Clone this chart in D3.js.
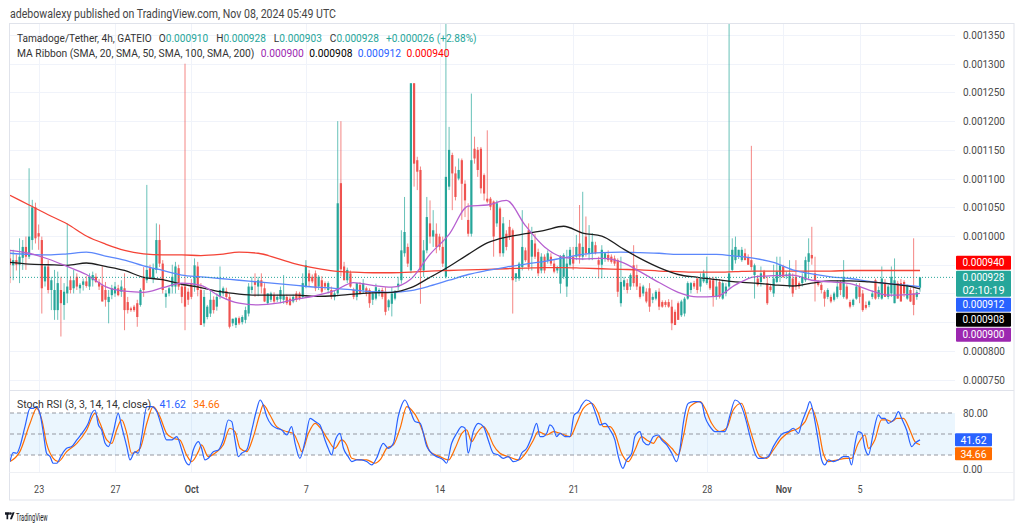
<!DOCTYPE html>
<html>
<head>
<meta charset="utf-8">
<script src="https://cdn.jsdelivr.net/npm/d3@7/dist/d3.min.js"></script>
<style>
  html, body { margin:0; padding:0; background:#ffffff; overflow:hidden; }
  svg { display:block; }
  text { font-family: Roboto, "Liberation Sans", Arial, sans-serif; }
</style>
</head>
<body>
<svg id="chart" width="1024" height="532"></svg>
<script>
// ================= DATA =================
// Prices are in millionths of USDT (928 = 0.000928). 4h candles: [open, high, low, close]
const firstCandleUTC = Date.UTC(2024, 8, 21, 12, 0);
const candleHours = 4;
const candles = [
[961,976,918,950],[949,976,923,958],[958,968,940,950],[950,996,918,964],[962,993,941,981],[981,999,941,964],[964,1118,960,999],[993,1063,976,1050],[1050,1058,987,996],[1005,1020,976,999],
[993,999,865,909],[921,950,912,947],[947,958,900,906],[906,929,871,923],[871,941,854,906],[871,938,854,918],[906,929,825,883],[880,918,854,903],[900,1022,883,912],[923,930,900,906],
[909,941,900,923],[929,935,906,912],[909,918,900,915],[915,926,905,921],[921,930,910,913],[912,935,906,929],[923,938,912,932],[929,935,918,920],[920,925,906,912],[914,947,886,886],
[906,920,877,889],[885,906,848,894],[897,915,890,909],[900,920,894,912],[909,915,895,897],[903,923,894,912],[909,935,836,871],[885,894,865,871],[874,877,868,871],[877,880,868,871],
[883,889,842,859],[880,909,877,906],[929,946,894,906],[923,1089,918,941],[944,950,925,926],[926,952,918,944],[941,1022,935,993],[993,1020,946,952],[952,958,900,906],[894,906,875,900],
[900,912,895,909],[912,950,900,929],[912,955,900,947],[944,950,906,912],[912,918,883,894],[912,1300,836,877],[903,909,880,889],
[918,925,890,894],[912,961,903,949],[947,955,895,906],[906,918,845,845],[848,906,842,894],[859,880,855,877],[865,906,859,889],[889,895,865,871],[877,900,870,894],[894,947,890,906],
[900,912,895,909],[904,910,890,894],[894,900,839,842],[848,856,843,856],[845,859,840,857],[857,860,845,848],[850,862,846,859],[854,877,848,871],[865,918,860,912],[906,929,900,912],
[921,935,894,915],[912,929,895,923],[923,935,900,912],[909,918,885,886],[883,900,880,900],[889,903,885,900],[897,902,883,886],[889,898,885,894],[890,912,883,906],[889,932,882,897],
[894,898,880,883],[891,895,878,880],[886,898,883,894],[900,904,885,889],[900,903,888,891],[894,935,891,918],[912,958,909,949],[935,941,912,921],[929,933,918,921],[935,940,904,909],
[912,932,906,929],[923,930,900,903],[918,921,906,912],[906,921,900,918],[906,912,890,894],[894,906,888,900],
[900,1200,895,1057],[1092,1200,930,942],
[947,955,923,923],[923,945,918,941],[935,940,910,912],[906,910,890,894],[894,918,888,918],[915,920,898,900],[906,925,900,918],[909,912,895,900],[906,909,875,883],[889,903,880,900],
[891,917,888,911],[900,909,895,906],[906,910,890,894],[903,911,862,868],[876,890,870,888],[882,911,860,900],[891,906,888,903],[911,929,906,917],[923,1010,917,975],[970,1068,964,1007],
[981,987,946,952],[940,1266,935,1266],[1266,1266,1086,1126],[1132,1138,1080,1112],[1115,1121,882,940],[940,993,929,975],[975,1068,970,1033],[1022,1062,987,999],[999,1045,981,1010],[1004,1022,970,981],
[999,1004,975,981],[981,999,946,952],[929,1372,926,1103],[1086,1190,1080,1150],[1141,1145,1045,1109],[1109,1121,1062,1068],[1100,1135,1097,1115],[1132,1135,1028,1091],[1091,1097,1033,1062],[1028,1057,999,1004],
[1004,1248,999,1132],[1152,1173,1126,1135],[1150,1155,1103,1115],[1152,1155,1074,1083],[1106,1109,1062,1074],[1065,1184,1057,1060],[1065,1068,1045,1051],[1060,1062,964,999],[1022,1062,1016,1057],[1048,1051,964,970],
[970,1033,964,1022],[1004,1010,975,981],[1016,1028,993,999],[1010,1013,865,923],[926,935,920,935],[926,955,922,952],[946,1045,940,981],[975,980,955,958],[1010,1022,940,946],[964,1016,940,993],
[987,1004,960,964],[972,978,930,935],[940,970,935,964],[964,968,935,940],[958,975,952,970],[964,970,948,952],[952,958,935,938],[940,948,935,946],[917,967,900,964],[929,970,925,967],
[912,976,894,952],[950,981,947,976],[964,981,941,952],[964,1002,958,981],[987,1054,952,964],[964,1077,958,981],[999,1034,964,970],[970,1019,958,979],[970,1005,958,990],[984,990,968,970],
[958,964,926,950],[950,984,926,976],[961,972,955,970],[967,975,955,958],[964,968,952,955],[961,966,948,952],[958,961,894,903],[883,964,877,920],[912,929,906,923],[918,925,900,906],
[912,935,906,932],[949,984,912,918],[932,950,906,912],[912,918,891,894],[900,915,895,912],[903,909,883,886],[909,918,868,877],[889,900,883,894],[891,906,888,903],[903,909,871,877],
[885,888,875,877],[885,888,876,880],[885,890,875,877],[877,889,836,848],[868,872,845,845],[883,886,854,854],[862,889,859,886],[865,894,860,891],[891,921,889,918],[906,920,900,918],
[918,922,908,912],[926,930,900,906],[912,935,903,926],[921,941,918,935],[918,964,915,929],[923,928,906,909],[923,929,877,894],[894,929,889,912],[920,925,891,894],[891,923,889,918],
[900,918,895,912],[912,1372,908,935],[941,996,938,976],[958,999,952,981],[964,976,960,976],[958,981,955,976],[970,978,958,958],[962,968,950,950],
[958,1157,940,946],[932,952,891,949],[926,932,912,915],[920,947,912,935],[938,941,925,926],[918,929,880,883],[912,915,903,906],[900,950,894,926],[920,964,918,938],[929,964,920,949],
[947,950,927,929],[930,938,925,933],[912,958,909,935],[926,935,894,900],[929,958,906,912],[918,921,908,912],[918,935,912,929],[923,964,920,958],[955,996,923,970],[967,1016,950,961],
[935,964,886,923],[921,923,912,915],[915,918,900,906],[903,906,877,891],[894,909,890,906],[894,898,883,886],[889,903,886,900],[894,923,891,912],[918,923,897,906],[894,958,891,929],
[912,916,889,891],[885,889,874,877],[880,891,877,889],[891,918,889,912],[912,918,883,894],[900,906,868,871],[880,886,872,875],[880,888,876,886],[894,905,890,900],[923,926,889,891],
[894,912,890,906],[891,947,889,926],[918,925,894,894],[894,915,890,912],[900,947,894,929],[883,961,883,923],[918,922,891,891],[918,925,886,886],[920,923,894,900],[891,915,889,915],
[906,910,885,886],[900,996,862,880],[894,906,889,902],[910,928,903,928]
];

// MA Ribbon values read once per day (every 6 candles); final value is at the last candle
const maEvery = 6;
const sma20 = [975,970,960,947,933,912,904,902,910,918,914,895,883,880,883,890,896,905,919,914,911,925,968,1003,1052,1054,1062,1018,981,963,960,961,955,938,919,902,894,895,915,929,931,932,923,920,917,906,897,898,900];
const sma50 = [954,951,950,949,953,947,940,928,924,916,910,903,899,897,897,897,895,896,899,901,902,910,928,947,968,988,998,1004,1010,1017,1005,1000,980,961,945,933,928,924,920,918,915,913,918,922,922,920,917,913,908];
const sma100 = [970,968,967,969,972,965,958,948,940,932,929,926,923,920,917,914,911,909,906,903,902,905,913,923,933,940,946,951,956,962,968,971,972,971,970,968,968,968,965,961,954,941,934,929,926,921,917,914,912];
const sma200 = [1071,1054,1037,1021,1000,986,975,969,967,967,966,968,972,970,961,951,944,939,937,936,936,937,939,940,941,942,943,944,945,945,944,943,942,941,939,938,937,937,938,939,939,939,939,939,940,940,940,940,940];

// Stoch RSI (3,3,14,14): [candle index, value]
const stochK = [
[0,10.6],[1,23.4],[2.1,22.5],[3.1,32],[4.7,60.5],[6.3,86.7],[7.3,86.7],[8.2,89.1],[9.4,79.6],[10.5,51],[11.5,22.5],[12.6,17.7],[13.6,8.2],[14.7,8.2],[16.2,20.1],[17.8,29.6],[19.4,32],[21,41.5],[23,53.4],[24.6,65.3],[25.7,79.6],[26.7,84.3],[27.8,62.9],[28.8,55.8],[29.9,36.7],[30.9,32],[32.5,53.4],[34,79.6],[35.1,60.5],[36.7,32],[37.7,12.9],[39.3,24.8],[40.3,22.5],[41.4,46.3],[43,89.1],[44.5,89.1],[46.1,82],[47.7,60.5],[49.2,41.5],[50.8,41.5],[52.4,46.3],[54,27.2],[55,12.9],[56.3,5.8],[57.6,27.2],[59.2,39.1],[60.2,29.6],[61.3,12.9],[62.3,15.3],[63.9,24.8],[65.5,27.2],[67,41.5],[68.6,70],[69.7,67.7],[70.7,41.5],[71.8,17.7],[72.8,22.5],[74.4,27.2],[76,55.8],[77.5,84.3],[78.6,98.6],[79.6,91.5],[80.7,74.8],[82.2,62.9],[83.8,58.2],[85.4,55.8],[87,48.6],[88.5,60.5],[89.6,36.7],[91.1,15.3],[92.7,39.1],[94.3,72.4],[95.9,67.7],[97.4,62.9],[99,41.5],[100,29.6],[101.1,20.1],[102.1,39.1],[103.7,51],[104.8,29.6],[106.3,17.7],[107.4,10.6],[109,12.9],[110.5,12.9],[112.1,10.6],[113.7,5.8],[115.2,15.3],[117.3,36.7],[118.9,29.6],[120.5,36.7],[122,74.8],[123.1,91.5],[124.1,98.6],[125.7,84.3],[127.3,67.7],[128.9,65.3],[131,32],[132.5,22.5],[134.1,17.7],[136.2,12.9],[137.2,8.2],[138.8,36.7],[140.4,51],[142,60.5],[143,58.2],[144,22.5],[145.6,53.4],[147.2,65.3],[148.8,60.5],[150.3,41.5],[151.9,22.5],[153.5,20.1],[155,15.3],[156.6,17.7],[158.2,10.6],[159.8,12.9],
[160.8,22.5],[162.4,29.6],[164,46.3],[165.5,65.3],[166.6,46.3],[167.6,46.3],[168.7,51],[169.7,62.9],[170.8,58.2],[171.8,46.3],[172.9,51],[174.4,46.3],[176,46.3],[177.3,77.2],[178.6,82],[179.7,91.5],[181.2,98.6],[182.8,93.9],[184.4,74.8],[185.4,62.9],[187,65.3],[188.6,55.8],[190.1,41.5],[191.2,17.7],[192.6,1],[193.8,12.9],[195.4,22.5],[196.4,46.3],[198,53.4],[199,39.1],[200.6,34.4],[202.2,46.3],[203.8,48.6],[204.8,41.5],[206.4,34.4],[208,22.5],[209.5,10.6],[210.6,29.6],[211.6,65.3],[213.2,93.9],[214.8,96.2],[216.3,96.2],[217.4,93.9],[218.4,74.8],[220,60.5],[221.6,53.4],[223.1,53.4],[224.7,53.4],[226.3,77.2],[227.9,98.6],[229.4,93.9],[231,74.8],[232.6,46.3],[234.1,22.5],[235.2,15.3],[236.8,15.3],[238.3,17.7],[239.9,32],[241.5,43.9],[243,51],[244.6,53.4],[246.2,58.2],[247.8,51],[248.8,65.3],[250.4,84.3],[251.4,96.2],[252.5,79.6],[254,41.5],[255.1,12.9],[256.1,5.8],[257.2,12.9],[258.8,10.6],[260.3,12.9],[261.9,17.7],[263.5,17.7],[264.5,5.8],[265.6,36.7],[266.6,53.4],[267.7,51],[268.7,29.6],[269.8,20.1],[271.3,51],[272.9,77.2],[273.9,72.4],[275,72.4],[276,65.3],[277.1,67.7],[278.1,72.4],[279.2,82],[280.2,72.4],[281.8,55.8],[283.4,32],[284.4,36.7],[286,41.62]
];
const stochD = [
[0,10.6],[3.1,24.8],[6.3,65.3],[8.4,86.7],[10,70.1],[11.5,36.7],[13.6,15.3],[15.2,10.6],[17.8,24.8],[21,36.7],[24.1,55.8],[26.7,79.6],[28.3,65.3],[30.4,41.5],[32,36.7],[33.5,55.8],[35.1,70.1],[36.7,51],[38.2,22.5],[40.9,29.6],[43,65.3],[45,89.1],[47.1,74.8],[49.2,51],[51.3,43.9],[53.4,41.5],[55.5,20.1],[57.1,10.6],[59.2,24.8],[60.2,34.4],[62.3,17.7],[64.4,22.5],[67,34.4],[69.1,58.2],[70.7,53.4],[72.3,29.6],[74.4,24.8],[76.5,46.3],[78.6,79.6],[79.6,91.5],[81.7,77.2],[83.8,60.5],[87,53.4],[89,51],[90.6,36.7],[91.7,24.8],[93.8,51],[95.9,65.3],[98,55.8],[100,41.5],[102.1,29.6],[104.2,41.5],[105.8,34.4],[107.4,15.3],[110,12.9],[112.1,12.9],[114.7,8.2],[116.3,12.9],[118.4,29.6],[120.5,34.4],[122.6,58.2],[124.7,89.1],[126.2,84.3],[128.3,70.1],[129.9,51],[132,24.8],[135.1,17.7],[137.8,12.9],[139.9,29.6],[142,51],[143.5,55.8],[145.1,39.1],[146.7,51],[148.8,60.5],[150.3,51],[151.9,34.4],[154,22.5],[156.6,17.7],[159.8,12.9],
[162.4,24.8],[164.5,41.5],[166,53.4],[168.7,48.6],[170.8,53.4],[172.9,51],[176,46.3],[178.1,65.3],[180.2,86.7],[182.8,93.9],[184.9,79.6],[186.5,60.5],[188.6,60.5],[190.1,51],[192.2,22.5],[194.3,10.6],[196.4,27.2],[198.5,46.3],[200.1,41.5],[202.2,36.7],[203.8,46.3],[205.3,41.5],[208,29.6],[210,20.1],[211.6,46.3],[213.7,89.1],[216.9,96.2],[218.4,86.7],[220.5,65.3],[223.1,53.4],[225.2,58.2],[227.3,84.3],[229.9,93.9],[232,65.3],[233.6,41.5],[235.7,17.7],[237.8,15.3],[239.9,27.2],[242.5,43.9],[245.1,53.4],[247.8,58.2],[249.9,67.7],[251.9,86.7],[254,60.5],[255.6,22.5],[257.2,10.6],[259.8,12.9],[262.9,15.3],[264.5,15.3],[266.6,36.7],[268.7,48.6],[269.8,29.6],[271.8,41.5],[273.9,70.1],[275.5,70.1],[277.1,67.7],[278.7,72.4],[280.8,72.4],[282.8,55.8],[284.4,39.1],[286,34.66]
];

const priceTicks = [750,800,850,900,950,1000,1050,1100,1150,1200,1250,1300,1350];
const stochTicks = [0, 80];
const stochLevels = [20, 50, 80];
const dateTicks = ["2024-09-23","2024-09-27","2024-10-01","2024-10-07","2024-10-14","2024-10-21","2024-10-28","2024-11-01","2024-11-05"];
const dateLabels = ["23","27","Oct","7","14","21","28","Nov","5"];
const countdown = "02:10:19";

// ================= DRAW =================
const svg = d3.select('#chart');
const C = { up:'#26a69a', down:'#ef5350', grid:'#f0f3fa', border:'#e0e3eb', text:'#131722', axis:'#4a4a4a',
  ma20:'#b65fd0', ma50:'#1e1e1e', ma100:'#5b87fb', ma200:'#f44336',
  lab20:'#9c27b0', lab50:'#000000', lab100:'#2962ff', lab200:'#ff0000', k:'#2962ff', d:'#ff6d00' };
const tOf = i => new Date(firstCandleUTC + i * candleHours * 3600e3);
const L = 10, R = 955, mainTop = 24, mainBot = 390, stTop = 391, stBot = 472;
const x = d3.scaleTime().domain([tOf(0), tOf(candles.length - 1)]).range([10, 920]);
const y = d3.scaleLinear().domain([750, 1350]).range([379.6, 35]);
const ys = d3.scaleLinear().domain([0, 100]).range([469, 399]);
const fmt = v => (v / 1e6).toFixed(6);

function txt(g, s, xx, yy, o = {}) {
  const t = g.append('text').attr('x', xx).attr('y', yy).text(s)
    .attr('font-size', o.size || 11).attr('fill', o.fill || C.text)
    .attr('font-weight', o.weight || 400).attr('text-anchor', o.anchor || 'start');
  if (o.width) t.attr('textLength', o.width).attr('lengthAdjust', 'spacingAndGlyphs');
  return t;
}
function condense(sel, f) {
  sel.each(function () {
    const w = this.getComputedTextLength();
    this.setAttribute('textLength', (w * f).toFixed(1));
    this.setAttribute('lengthAdjust', 'spacingAndGlyphs');
  });
}
// one text element per legend row (coloured tspans), horizontally scaled to the row's width
function legendRow(parent, parts, x0, y0, width) {
  const g = parent.append('g');
  const t = g.append('text').attr('x', 0).attr('y', 0).attr('font-size', 11.5);
  parts.forEach(p => t.append('tspan').attr('dx', p.dx || 0).attr('fill', p.fill).text(p.s));
  const w = t.node().getBBox().width;
  g.attr('transform', `translate(${x0},${y0}) scale(${(width / w).toFixed(4)},1)`);
}

const defs = svg.append('defs');
defs.append('clipPath').attr('id', 'clipMain').append('rect')
  .attr('x', L).attr('y', mainTop).attr('width', R - L).attr('height', mainBot - mainTop);
defs.append('clipPath').attr('id', 'clipStoch').append('rect')
  .attr('x', L).attr('y', stTop).attr('width', R - L).attr('height', stBot - stTop);

// header
txt(svg, 'adebowalexy published on TradingView.com, Nov 08, 2024 05:49 UTC', 10, 18, { size: 12, fill: '#444', width: 326 });

// grid
const grid = svg.append('g').attr('stroke', C.grid).attr('stroke-width', 1);
grid.selectAll('line.h').data(priceTicks).join('line').attr('class', 'h')
  .attr('x1', L).attr('x2', R).attr('y1', d => Math.round(y(d)) + 0.5).attr('y2', d => Math.round(y(d)) + 0.5);
const tickDates = dateTicks.map(d => new Date(d + 'T00:00:00Z'));
grid.selectAll('line.v').data(tickDates).join('line').attr('class', 'v')
  .attr('x1', d => Math.round(x(d)) + 0.5).attr('x2', d => Math.round(x(d)) + 0.5).attr('y1', mainTop).attr('y2', stBot);

// frame and pane separators
svg.append('rect').attr('x', 9.5).attr('y', 23.5).attr('width', 1004.5).attr('height', 476.5)
  .attr('fill', 'none').attr('stroke', C.border);
svg.append('line').attr('x1', 9.5).attr('x2', 1014).attr('y1', 390.5).attr('y2', 390.5).attr('stroke', C.border);
svg.append('line').attr('x1', 9.5).attr('x2', 1014).attr('y1', 472.5).attr('y2', 472.5).attr('stroke', '#eef0f4');

// candles
const cg = svg.append('g').attr('clip-path', 'url(#clipMain)');
const col = d => d[3] >= d[0] ? C.up : C.down;
cg.selectAll('line.wick').data(candles).join('line').attr('class', 'wick')
  .attr('x1', (d, i) => x(tOf(i))).attr('x2', (d, i) => x(tOf(i)))
  .attr('y1', d => y(d[1])).attr('y2', d => y(d[2]))
  .attr('stroke', col).attr('stroke-opacity', 0.7).attr('stroke-width', 1);
cg.selectAll('rect.body').data(candles).join('rect').attr('class', 'body')
  .attr('x', (d, i) => x(tOf(i)) - 1.1).attr('width', 2.2)
  .attr('y', d => y(Math.max(d[0], d[3])))
  .attr('height', d => Math.max(1, Math.abs(y(d[0]) - y(d[3]))))
  .attr('fill', col);

// MA ribbon
const maIdx = (j, arr) => j === arr.length - 1 ? candles.length - 1 : j * maEvery;
const maPath = arr => d3.line().x((d, j) => x(tOf(maIdx(j, arr)))).y(d => y(d)).curve(d3.curveMonotoneX)(arr);
[[sma200, C.ma200], [sma100, C.ma100], [sma50, C.ma50], [sma20, C.ma20]].forEach(([arr, c]) => {
  cg.append('path').attr('d', maPath(arr)).attr('fill', 'none').attr('stroke', c).attr('stroke-width', 1.3);
});

// current price line
const last = candles[candles.length - 1];
const prevClose = candles[candles.length - 2][3];
svg.append('line').attr('x1', L).attr('x2', R).attr('y1', y(last[3])).attr('y2', y(last[3]))
  .attr('stroke', C.up).attr('stroke-dasharray', '1,2').attr('stroke-width', 1);

// stoch pane
const sg = svg.append('g');
sg.append('rect').attr('x', L).attr('y', ys(80)).attr('width', R - L).attr('height', ys(20) - ys(80))
  .attr('fill', 'rgba(33,150,243,0.09)');
sg.selectAll('line.lvl').data(stochLevels).join('line').attr('class', 'lvl')
  .attr('x1', L).attr('x2', R).attr('y1', d => ys(d)).attr('y2', d => ys(d))
  .attr('stroke', '#9598a1').attr('stroke-dasharray', '4,3').attr('stroke-width', 1);
const stLine = d3.line().x(d => x(tOf(d[0]))).y(d => ys(d[1])).curve(d3.curveMonotoneX);
const sc = svg.append('g').attr('clip-path', 'url(#clipStoch)');
sc.append('path').attr('d', stLine(stochD)).attr('fill', 'none').attr('stroke', C.d).attr('stroke-width', 1.2);
sc.append('path').attr('d', stLine(stochK)).attr('fill', 'none').attr('stroke', C.k).attr('stroke-width', 1.2);

// legends
const lg = svg.append('g');
const lastK = stochK[stochK.length - 1][1], lastD = stochD[stochD.length - 1][1];
const chg = last[3] - prevClose;
const sgn = v => (v >= 0 ? '+' : '');
legendRow(lg, [
  { s: 'Tamadoge/Tether, 4h, GATEIO', fill: '#333' },
  { s: 'O', fill: '#333', dx: 8 }, { s: fmt(last[0]), fill: C.up },
  { s: 'H', fill: '#333', dx: 9 }, { s: fmt(last[1]), fill: C.up },
  { s: 'L', fill: '#333', dx: 9 }, { s: fmt(last[2]), fill: C.up },
  { s: 'C', fill: '#333', dx: 9 }, { s: fmt(last[3]), fill: C.up },
  { s: sgn(chg) + fmt(chg) + ' (' + sgn(chg) + (chg / prevClose * 100).toFixed(2) + '%)', fill: C.up, dx: 8 }
], 17, 42, 460);
legendRow(lg, [
  { s: 'MA Ribbon (SMA, 20, SMA, 50, SMA, 100, SMA, 200)', fill: '#333' },
  { s: fmt(sma20[sma20.length - 1]), fill: C.lab20, dx: 7 },
  { s: fmt(sma50[sma50.length - 1]), fill: C.lab50, dx: 6 },
  { s: fmt(sma100[sma100.length - 1]), fill: C.lab100, dx: 6 },
  { s: fmt(sma200[sma200.length - 1]), fill: C.lab200, dx: 6 }
], 17, 57, 433);
legendRow(lg, [
  { s: 'Stoch RSI (3, 3, 14, 14, close)', fill: '#333' },
  { s: lastK.toFixed(2), fill: C.k, dx: 9 },
  { s: lastD.toFixed(2), fill: C.d, dx: 8 }
], 17, 408, 203);

// price labels (stacked around the current price) — compute boxes first
const curTop = y(last[3]) - 6.5;
const boxes = [{ top: curTop, h: 26, fill: C.up, lines: [fmt(last[3]), countdown] }];
let tp = curTop;
[[sma200[sma200.length - 1], C.lab200]].forEach(([v, c]) => { tp -= 15; boxes.push({ top: tp, h: 14, fill: c, lines: [fmt(v)] }); });
let bt = curTop + 27;
[[sma100[sma100.length - 1], C.lab100], [sma50[sma50.length - 1], C.lab50], [sma20[sma20.length - 1], C.lab20]]
  .forEach(([v, c]) => { boxes.push({ top: bt, h: 14, fill: c, lines: [fmt(v)] }); bt += 15; });

// price axis (labels hidden where a price box covers them)
const freeTicks = priceTicks.filter(p => !boxes.some(b => y(p) > b.top - 5 && y(p) < b.top + b.h + 5));
const yAxis = d3.axisRight(y).tickValues(freeTicks).tickSize(0).tickPadding(0).tickFormat(fmt);
const ya = svg.append('g').attr('transform', 'translate(963,0)').call(yAxis);
ya.select('.domain').remove();
ya.selectAll('text').attr('font-size', 11).attr('fill', C.axis).attr('font-family', 'Roboto, sans-serif')
  .attr('textLength', 42).attr('lengthAdjust', 'spacingAndGlyphs');

// stoch axis
const sAxis = d3.axisRight(ys).tickValues(stochTicks).tickSize(0).tickPadding(0).tickFormat(d => d.toFixed(2));
const sa = svg.append('g').attr('transform', 'translate(963,0)').call(sAxis);
sa.select('.domain').remove();
sa.selectAll('text').attr('font-size', 11).attr('fill', C.axis).attr('font-family', 'Roboto, sans-serif');
condense(sa.selectAll('text'), 0.9);

// time axis
const xAxis = d3.axisBottom(x).tickValues(tickDates).tickSize(0).tickPadding(0).tickFormat((d, i) => dateLabels[i]);
const xa = svg.append('g').attr('transform', 'translate(0,485)').call(xAxis);
xa.select('.domain').remove();
xa.selectAll('text').attr('font-size', 11).attr('fill', C.axis).attr('font-family', 'Roboto, sans-serif')
  .attr('font-weight', (d, i) => /\D/.test(dateLabels[i]) ? 600 : 400);
condense(xa.selectAll('text'), 0.82);

// draw boxes
const pl = svg.append('g');
function box(b, bx, bw) {
  pl.append('rect').attr('x', bx).attr('y', b.top).attr('width', bw).attr('height', b.h).attr('fill', b.fill).attr('rx', 1);
  b.lines.forEach((s, k) => txt(pl, s, bx + bw / 2, b.top + 10.5 + k * 12.5, { size: 11, fill: '#fff', anchor: 'middle', width: s.length * 5.25 }));
}
boxes.forEach(b => box(b, 956, 55));

// stoch labels
const kTop = ys(lastK) - 6.5;
box({ top: kTop, h: 13, fill: C.k, lines: [lastK.toFixed(2)] }, 955, 37);
box({ top: kTop + 14, h: 13, fill: C.d, lines: [lastD.toFixed(2)] }, 955, 37);

// TradingView logo
const logo = svg.append('g').attr('fill', '#131722');
logo.append('path').attr('d', 'M5 512.3h4.6v2.4H8.2v4.6H6.5v-4.6H5z');
logo.append('circle').attr('cx', 10.6).attr('cy', 513.5).attr('r', 1.2);
logo.append('path').attr('d', 'M12.6 512.3h2l-2.7 7H9.9z');
txt(svg, 'TradingView', 16, 520.5, { size: 11, fill: '#131722', width: 31.5 });
</script>
</body>
</html>
